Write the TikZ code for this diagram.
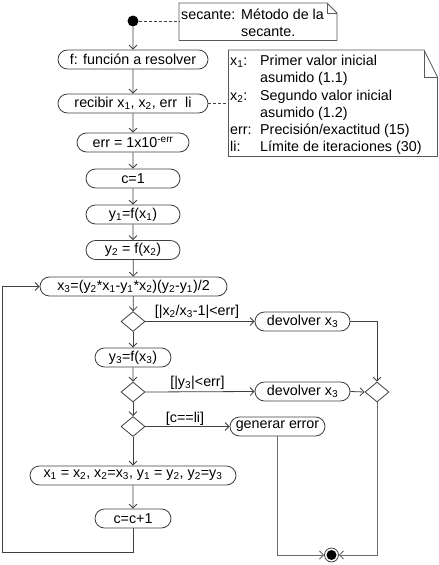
\documentclass[tikz,border=0pt]{standalone}
\usepackage{fontspec}
\setmainfont{Liberation Sans}
\usetikzlibrary{arrows.meta,shapes.misc,shapes.geometric}
\definecolor{lc}{gray}{0.25}
\definecolor{lg}{gray}{0.42}
\definecolor{nc}{gray}{0.35}
\begin{document}
\begin{tikzpicture}[x=1pt,y=-1pt,
  font=\fontsize{14.3}{17}\selectfont,
  act/.style={rounded rectangle, draw=lc, line width=0.8pt, inner sep=0pt, minimum height=19pt},
  dec/.style={diamond, draw=lc, line width=0.8pt, minimum width=24pt, minimum height=20pt, inner sep=0pt},
  flow/.style={draw=lc, line width=0.8pt, -{Straight Barb[length=4pt,width=8pt]}},
  flowg/.style={draw=lg, line width=0.9pt, -{Straight Barb[length=4pt,width=8pt]}},
  plainline/.style={draw=lc, line width=0.8pt},
  plaing/.style={draw=lg, line width=0.9pt},
  notebox/.style={draw=nc, line width=0.8pt, fill=white},
  anchorline/.style={draw=lc, line width=0.8pt, dashed, dash pattern=on 3pt off 2pt},
  txt/.style={inner sep=0pt, anchor=base west},
  guard/.style={inner sep=0pt, anchor=base}]
\fill[white] (0,0) rectangle (439,565);
\useasboundingbox (0,0) rectangle (439,565);

% start
\node[circle, fill=black, inner sep=0pt, minimum size=11pt] (start) at (133,21) {};

% note 1
\draw[notebox] (179,3) -- (327,3) -- (337,13) -- (337,40.5) -- (179,40.5) -- cycle;
\draw[draw=nc, line width=0.8pt] (327,3) -- (327,13) -- (337,13);
\coordinate (n1w) at (179,21);
\node[txt] (n1a) at (181,19) {secante:};
\node[txt] (n1b) at (241,19) {Método de la};
\node[txt] (n1c) at (241,36.5) {secante.};
\draw[anchorline] (start) -- (n1w);

% actions
\node[act, minimum width=150pt] (f) at (133,59.5) {f: función a resolver};
\node[act, minimum width=150pt] (rec) at (133,103.5) {recibir x\textsubscript{1}, x\textsubscript{2}, err\ \ li};
\node[act, minimum width=112pt] (err) at (133,142.5) {err = 1x10\textsuperscript{-err}};
\node[act, minimum width=94pt] (c1) at (133,178.5) {c=1};
\node[act, minimum width=94pt] (y1) at (133,214.5) {y\textsubscript{1}=f(x\textsubscript{1})};
\node[act, minimum width=94pt] (y2) at (133,250) {y\textsubscript{2} = f(x\textsubscript{2})};
\node[act, minimum width=187pt] (x3) at (133.5,286.5) {x\textsubscript{3}=(y\textsubscript{2}*x\textsubscript{1}-y\textsubscript{1}*x\textsubscript{2})(y\textsubscript{2}-y\textsubscript{1})/2};
\node[dec] (d1) at (133,321.5) {};
\node[act, minimum width=95pt] (dev1) at (302.5,321.5) {devolver x\textsubscript{3}};
\node[act, minimum width=76pt] (y3) at (133,357.5) {y\textsubscript{3}=f(x\textsubscript{3})};
\node[dec] (d2) at (133,392) {};
\node[act, minimum width=95pt] (dev2) at (302.5,391.5) {devolver x\textsubscript{3}};
\node[dec] (m) at (377,392) {};
\node[dec] (d3) at (133,426.5) {};
\node[act, minimum width=95pt] (gen) at (277.5,426.5) {generar error};
\node[act, minimum width=206pt] (upd) at (133,475.5) {x\textsubscript{1} = x\textsubscript{2}, x\textsubscript{2}=x\textsubscript{3}, y\textsubscript{1} = y\textsubscript{2}, y\textsubscript{2}=y\textsubscript{3}};
\node[act, minimum width=76pt] (inc) at (133,518.5) {c=c+1};

% end node
\node[circle, draw=lc, fill=white, line width=0.8pt, inner sep=0pt, minimum size=14pt] (endn) at (331.5,555) {};
\node[circle, fill=black, inner sep=0pt, minimum size=10pt] (endi) at (331.5,555) {};

% note 2
\draw[notebox] (228.5,50) -- (424,50) -- (437.5,77) -- (437.5,156.5) -- (228.5,156.5) -- cycle;
\draw[draw=nc, line width=0.8pt] (424,50) -- (424,77) -- (437.5,77);
\coordinate (n2w) at (228.5,103.5);
\node[txt] (l1) at (230,65) {x\textsubscript{1}:};
\node[txt] (t1) at (260,65) {Primer valor inicial};
\node[txt] (t1b) at (260,82.5) {asumido (1.1)};
\node[txt] (l2) at (230,100) {x\textsubscript{2}:};
\node[txt] (t2) at (260,100) {Segundo valor inicial};
\node[txt] (t2b) at (260,117.3) {asumido (1.2)};
\node[txt] (l3) at (230,134.5) {err:};
\node[txt] (t3) at (260,134.5) {Precisión/exactitud (15)};
\node[txt] (l4) at (230,151.7) {li:};
\node[txt] (t4) at (260,151.7) {Límite de iteraciones (30)};
\draw[anchorline] (rec.east) -- (n2w);

% flows
\draw[flow] (start) -- (f);
\draw[flow] (f) -- (rec);
\draw[flow] (rec) -- (err);
\draw[flow] (err) -- (c1);
\draw[flow] (c1) -- (y1);
\draw[flow] (y1) -- (y2);
\draw[flow] (y2) -- (x3);
\draw[flow] (x3) -- (d1);
\draw[flow] (d1.east) -- (dev1.west);
\draw[flow] (d1) -- (y3);
\draw[flow] (y3) -- (d2);
\draw[flow] (d2.east) -- (dev2.west);
\draw[flow] (dev1.east) -| (m.north);
\draw[flow] (dev2.east) -- (m.west);
\draw[flow] (d2) -- (d3);
\draw[flow] (d3.east) -- (gen.west);
\draw[flow] (d3) -- (upd);
\draw[flow] (upd) -- (inc);
\coordinate (lb) at (133,552);
\coordinate (ll) at (2,552);
\draw[flow] (inc.south) -- (lb) -- (ll) |- (x3.west);
\draw[flowg] (gen.south) |- (endn.west);
\draw[flowg] (m.south) |- (endn.east);

% guards
\node[guard] (g1) at (197,315) {[|x\textsubscript{2}/x\textsubscript{3}-1|<err]};
\node[guard] (g2) at (197.5,386) {[|y\textsubscript{3}|<err]};
\node[guard] (g3) at (185,422) {[c==li]};
\end{tikzpicture}
\end{document}
